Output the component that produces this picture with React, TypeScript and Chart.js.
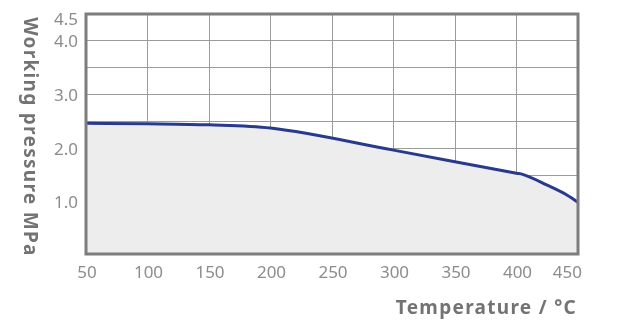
import React, { useEffect, useRef } from "react";
import { Chart, registerables } from "chart.js";

Chart.register(...registerables);

const temperatures = [50, 100, 150, 200, 300, 400, 405, 425, 440, 450];
const pressures = [2.47, 2.46, 2.44, 2.38, 1.97, 1.54, 1.52, 1.32, 1.15, 1.0];
const xTicks = [50, 100, 150, 200, 250, 300, 350, 400, 450];
const yGrid = [0.5, 1.0, 1.5, 2.0, 2.5, 3.0, 3.5, 4.0, 4.5];
const yLabels = [1.0, 2.0, 3.0, 4.0, 4.5];
const xTitle = "Temperature / °C";
const yTitle = "Working pressure MPa";

const W = 621;
const H = 334;

export default function App() {
  const ref = useRef<HTMLCanvasElement | null>(null);
  useEffect(() => {
    const canvas = ref.current;
    if (!canvas) return;
    const textPlugin = {
      id: "textPlugin",
      afterDraw(chart: any) {
        const ctx = chart.ctx;
        const xs = chart.scales.x;
        const ys = chart.scales.y;
        const ca = chart.chartArea;
        ctx.save();
        // box border
        ctx.strokeStyle = "#7d7d7d";
        ctx.lineWidth = 3;
        ctx.strokeRect(ca.left, ca.top, ca.right - ca.left, ca.bottom - ca.top);
        // x tick labels
        ctx.fillStyle = "#8c8c8c";
        ctx.font = "17px 'Noto Sans'";
        ctx.textBaseline = "alphabetic";
        xTicks.forEach((v, i) => {
          const px = xs.getPixelForValue(v);
          if (i === xTicks.length - 1) {
            ctx.textAlign = "right";
            ctx.fillText(String(v), px + 4, 277.5);
          } else {
            ctx.textAlign = "center";
            ctx.fillText(String(v), px + 1, 277.5);
          }
        });
        // y tick labels
        ctx.textAlign = "right";
        yLabels.forEach((v) => {
          const py = ys.getPixelForValue(v);
          const by = v === 4.5 ? 24.5 : py + 6;
          ctx.fillText(v.toFixed(1), 78, by);
        });
        // titles
        ctx.fillStyle = "#737373";
        ctx.font = "bold 19px 'Noto Sans'";
        (ctx as any).letterSpacing = "1.3px";
        ctx.textAlign = "right";
        ctx.fillText(xTitle, 577, 313.5);
        ctx.save();
        ctx.translate(24, 137);
        ctx.rotate(Math.PI / 2);
        ctx.textAlign = "center";
        ctx.textBaseline = "alphabetic";
        ctx.fillText(yTitle, 0, 0);
        ctx.restore();
        (ctx as any).letterSpacing = "0px";
        ctx.restore();
      },
    };
    const chart = new Chart(canvas, {
      type: "line",
      data: {
        datasets: [
          {
            data: temperatures.map((t, i) => ({ x: t, y: pressures[i] })),
            borderColor: "#283a8c",
            borderWidth: 3,
            backgroundColor: "#ededed",
            fill: "start",
            pointRadius: 0,
            cubicInterpolationMode: "monotone",
          },
        ],
      },
      options: {
        animation: false,
        responsive: false,
        maintainAspectRatio: false,
        layout: { padding: { top: 14, right: 43, left: 0, bottom: 0 } },
        plugins: { legend: { display: false }, tooltip: { enabled: false } },
        scales: {
          x: {
            type: "linear",
            min: 50,
            max: 450,
            ticks: { display: false, stepSize: 50 },
            grid: { color: "#9b9b9b", lineWidth: 1, drawTicks: false },
            border: { display: false },
            afterFit: (s: any) => {
              s.height = H - 254;
            },
          },
          y: {
            min: 0.04,
            max: 4.5,
            ticks: { display: false },
            afterBuildTicks: (s: any) => {
              s.ticks = yGrid.map((v) => ({ value: v }));
            },
            grid: { color: "#9b9b9b", lineWidth: 1, drawTicks: false },
            border: { display: false },
            afterFit: (s: any) => {
              s.width = 86;
            },
          },
        },
      },
      plugins: [textPlugin],
    } as any);
    return () => chart.destroy();
  }, []);
  return (
    <div style={{ position: "fixed", left: 0, top: 0, width: W, height: H, background: "#fff" }}>
      <canvas ref={ref} width={W} height={H} style={{ width: W, height: H, display: "block" }} />
    </div>
  );
}
